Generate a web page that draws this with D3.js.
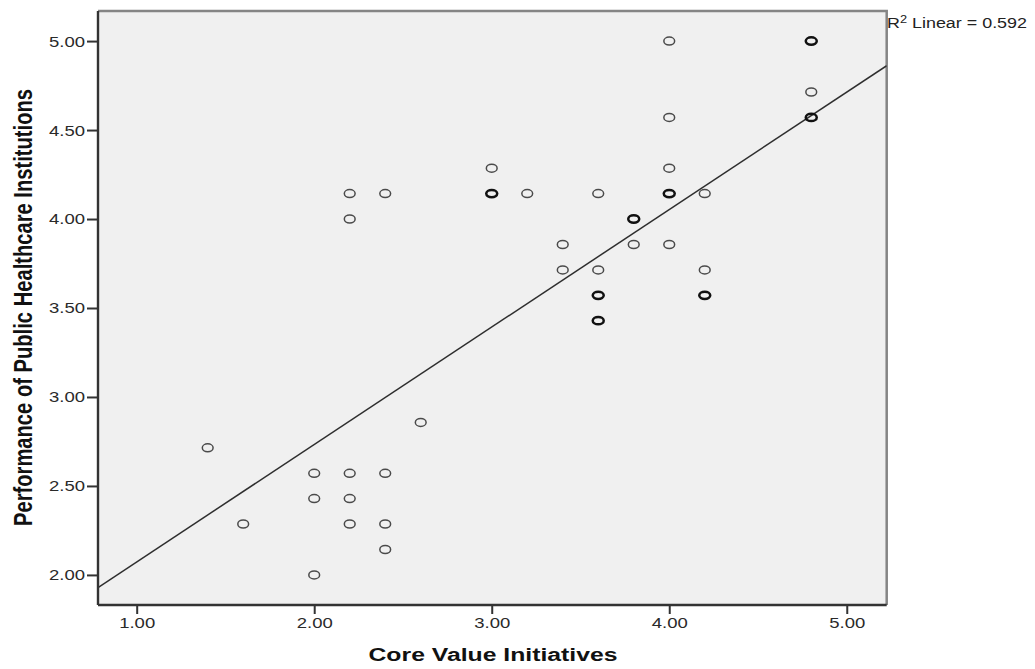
<!DOCTYPE html>
<html lang="en">
<head>
  <meta charset="utf-8">
  <title>Core Value Initiatives vs Performance</title>
  <script src="https://d3js.org/d3.v7.min.js"></script>
  <style>
    body { margin: 0; background: #fff; }
    text { font-family: "Liberation Sans", Arial, sans-serif; }
  </style>
</head>
<body>
  <div id="chart"></div>
  <script>
    // scatter data (x = Core Value Initiatives, y = Performance), count = overlapping cases
    var xVals = [1.4, 1.6, 2.0, 2.0, 2.0, 2.2, 2.2, 2.2, 2.2, 2.2, 2.4, 2.4, 2.4, 2.4, 2.6,
                 3.0, 3.0, 3.2, 3.4, 3.4, 3.6, 3.6, 3.6, 3.6, 3.8, 3.8,
                 4.0, 4.0, 4.0, 4.0, 4.0, 4.2, 4.2, 4.2, 4.8, 4.8, 4.8];
    var yVals = [2.714, 2.286, 2.571, 2.429, 2.0, 4.143, 4.0, 2.571, 2.429, 2.286, 4.143, 2.571, 2.286, 2.143, 2.857,
                 4.286, 4.143, 4.143, 3.857, 3.714, 4.143, 3.714, 3.571, 3.429, 4.0, 3.857,
                 5.0, 4.571, 4.286, 4.143, 3.857, 4.143, 3.714, 3.571, 5.0, 4.714, 4.571];
    var counts = [1, 1, 1, 1, 1, 1, 1, 1, 1, 1, 1, 1, 1, 1, 1,
                  1, 2, 1, 1, 1, 1, 1, 2, 2, 2, 1,
                  1, 1, 1, 2, 1, 1, 1, 2, 2, 1, 2];

    var xTicks = [1, 2, 3, 4, 5];
    var yTicks = [2, 2.5, 3, 3.5, 4, 4.5, 5];

    // fit line
    var fitIntercept = 1.413;
    var fitSlope = 0.66;
    var rSquared = 0.592;

    var w = 1035, h = 669;
    var pLeft = 98, pRight = 886.7, pTop = 11, pBottom = 605;

    var x = d3.scaleLinear().domain([0.782, 5.225]).range([pLeft, pRight]);
    var y = d3.scaleLinear().domain([1.831, 5.169]).range([pBottom, pTop]);

    var svg = d3.select("#chart").append("svg")
      .attr("width", w)
      .attr("height", h);

    // plot background
    svg.append("rect")
      .attr("x", pLeft).attr("y", pTop)
      .attr("width", pRight - pLeft).attr("height", pBottom - pTop)
      .attr("fill", "#f0f0f0");

    // top / right frame (lighter)
    svg.append("path")
      .attr("d", "M" + pLeft + "," + pTop + "H" + pRight + "V" + pBottom)
      .attr("fill", "none")
      .attr("stroke", "#858585")
      .attr("stroke-width", 2.5);

    // clip for regression line
    svg.append("clipPath").attr("id", "plotClip")
      .append("rect")
      .attr("x", pLeft).attr("y", pTop)
      .attr("width", pRight - pLeft).attr("height", pBottom - pTop);

    var xd = x.domain();
    svg.append("line")
      .attr("clip-path", "url(#plotClip)")
      .attr("x1", x(xd[0])).attr("y1", y(fitIntercept + fitSlope * xd[0]))
      .attr("x2", x(xd[1])).attr("y2", y(fitIntercept + fitSlope * xd[1]))
      .attr("stroke", "#2e2e2e")
      .attr("stroke-width", 1.5);

    var pts = xVals.map(function (v, i) { return { x: v, y: yVals[i], n: counts[i] }; });

    svg.append("g")
      .selectAll("ellipse")
      .data(pts)
      .enter()
      .append("ellipse")
      .attr("cx", function (d) { return x(d.x); })
      .attr("cy", function (d) { return y(d.y); })
      .attr("rx", function (d) { return d.n > 1 ? 5.5 : 5.4; })
      .attr("ry", function (d) { return d.n > 1 ? 3.7 : 4.0; })
      .attr("fill", "none")
      .attr("stroke", function (d) { return d.n > 1 ? "#111" : "#4a4a4a"; })
      .attr("stroke-width", function (d) { return d.n > 1 ? 2.5 : 1.5; });

    // axes
    var yAxis = svg.append("g")
      .attr("transform", "translate(" + pLeft + ",0)")
      .call(d3.axisLeft(y).tickValues(yTicks).tickSize(11).tickPadding(2)
        .tickFormat(d3.format(".2f")));

    var xAxis = svg.append("g")
      .attr("transform", "translate(0," + pBottom + ")")
      .call(d3.axisBottom(x).tickValues(xTicks).tickSize(9).tickPadding(3)
        .tickFormat(d3.format(".2f")));

    [yAxis, xAxis].forEach(function (g) {
      g.select(".domain").attr("stroke", "#333").attr("stroke-width", 2.4);
      g.selectAll(".tick line").attr("stroke", "#333").attr("stroke-width", 2);
      g.selectAll(".tick text")
        .attr("fill", "#2a2a2a")
        .attr("font-size", 15.5)
        .attr("font-family", "Liberation Sans, Arial, sans-serif")
        .attr("textLength", 36)
        .attr("lengthAdjust", "spacingAndGlyphs");
    });
    yAxis.select(".domain").attr("d", "M0," + pBottom + "V" + pTop);
    xAxis.select(".domain").attr("d", "M" + pLeft + ",0H" + pRight);
    xAxis.selectAll(".tick text").attr("y", 23).attr("dy", 0);

    // axis titles
    svg.append("text")
      .attr("x", 493).attr("y", 661)
      .attr("text-anchor", "middle")
      .attr("font-size", 18)
      .attr("font-weight", "bold")
      .attr("fill", "#111")
      .attr("textLength", 249)
      .attr("lengthAdjust", "spacingAndGlyphs")
      .text("Core Value Initiatives");

    svg.append("text")
      .attr("transform", "translate(32,307.5) rotate(-90) scale(1,1.3)")
      .attr("text-anchor", "middle")
      .attr("font-size", 20)
      .attr("font-weight", "bold")
      .attr("fill", "#111")
      .attr("textLength", 437)
      .attr("lengthAdjust", "spacingAndGlyphs")
      .text("Performance of Public Healthcare Institutions");

    // R squared label
    var r2 = svg.append("text")
      .attr("x", 887).attr("y", 28)
      .attr("font-size", 14)
      .attr("fill", "#222")
      .attr("textLength", 140)
      .attr("lengthAdjust", "spacingAndGlyphs");
    r2.append("tspan").text("R");
    r2.append("tspan").attr("font-size", 10).attr("dy", -5).text("2");
    r2.append("tspan").attr("dy", 5).text(" Linear = " + rSquared.toFixed(3));
  </script>
</body>
</html>
